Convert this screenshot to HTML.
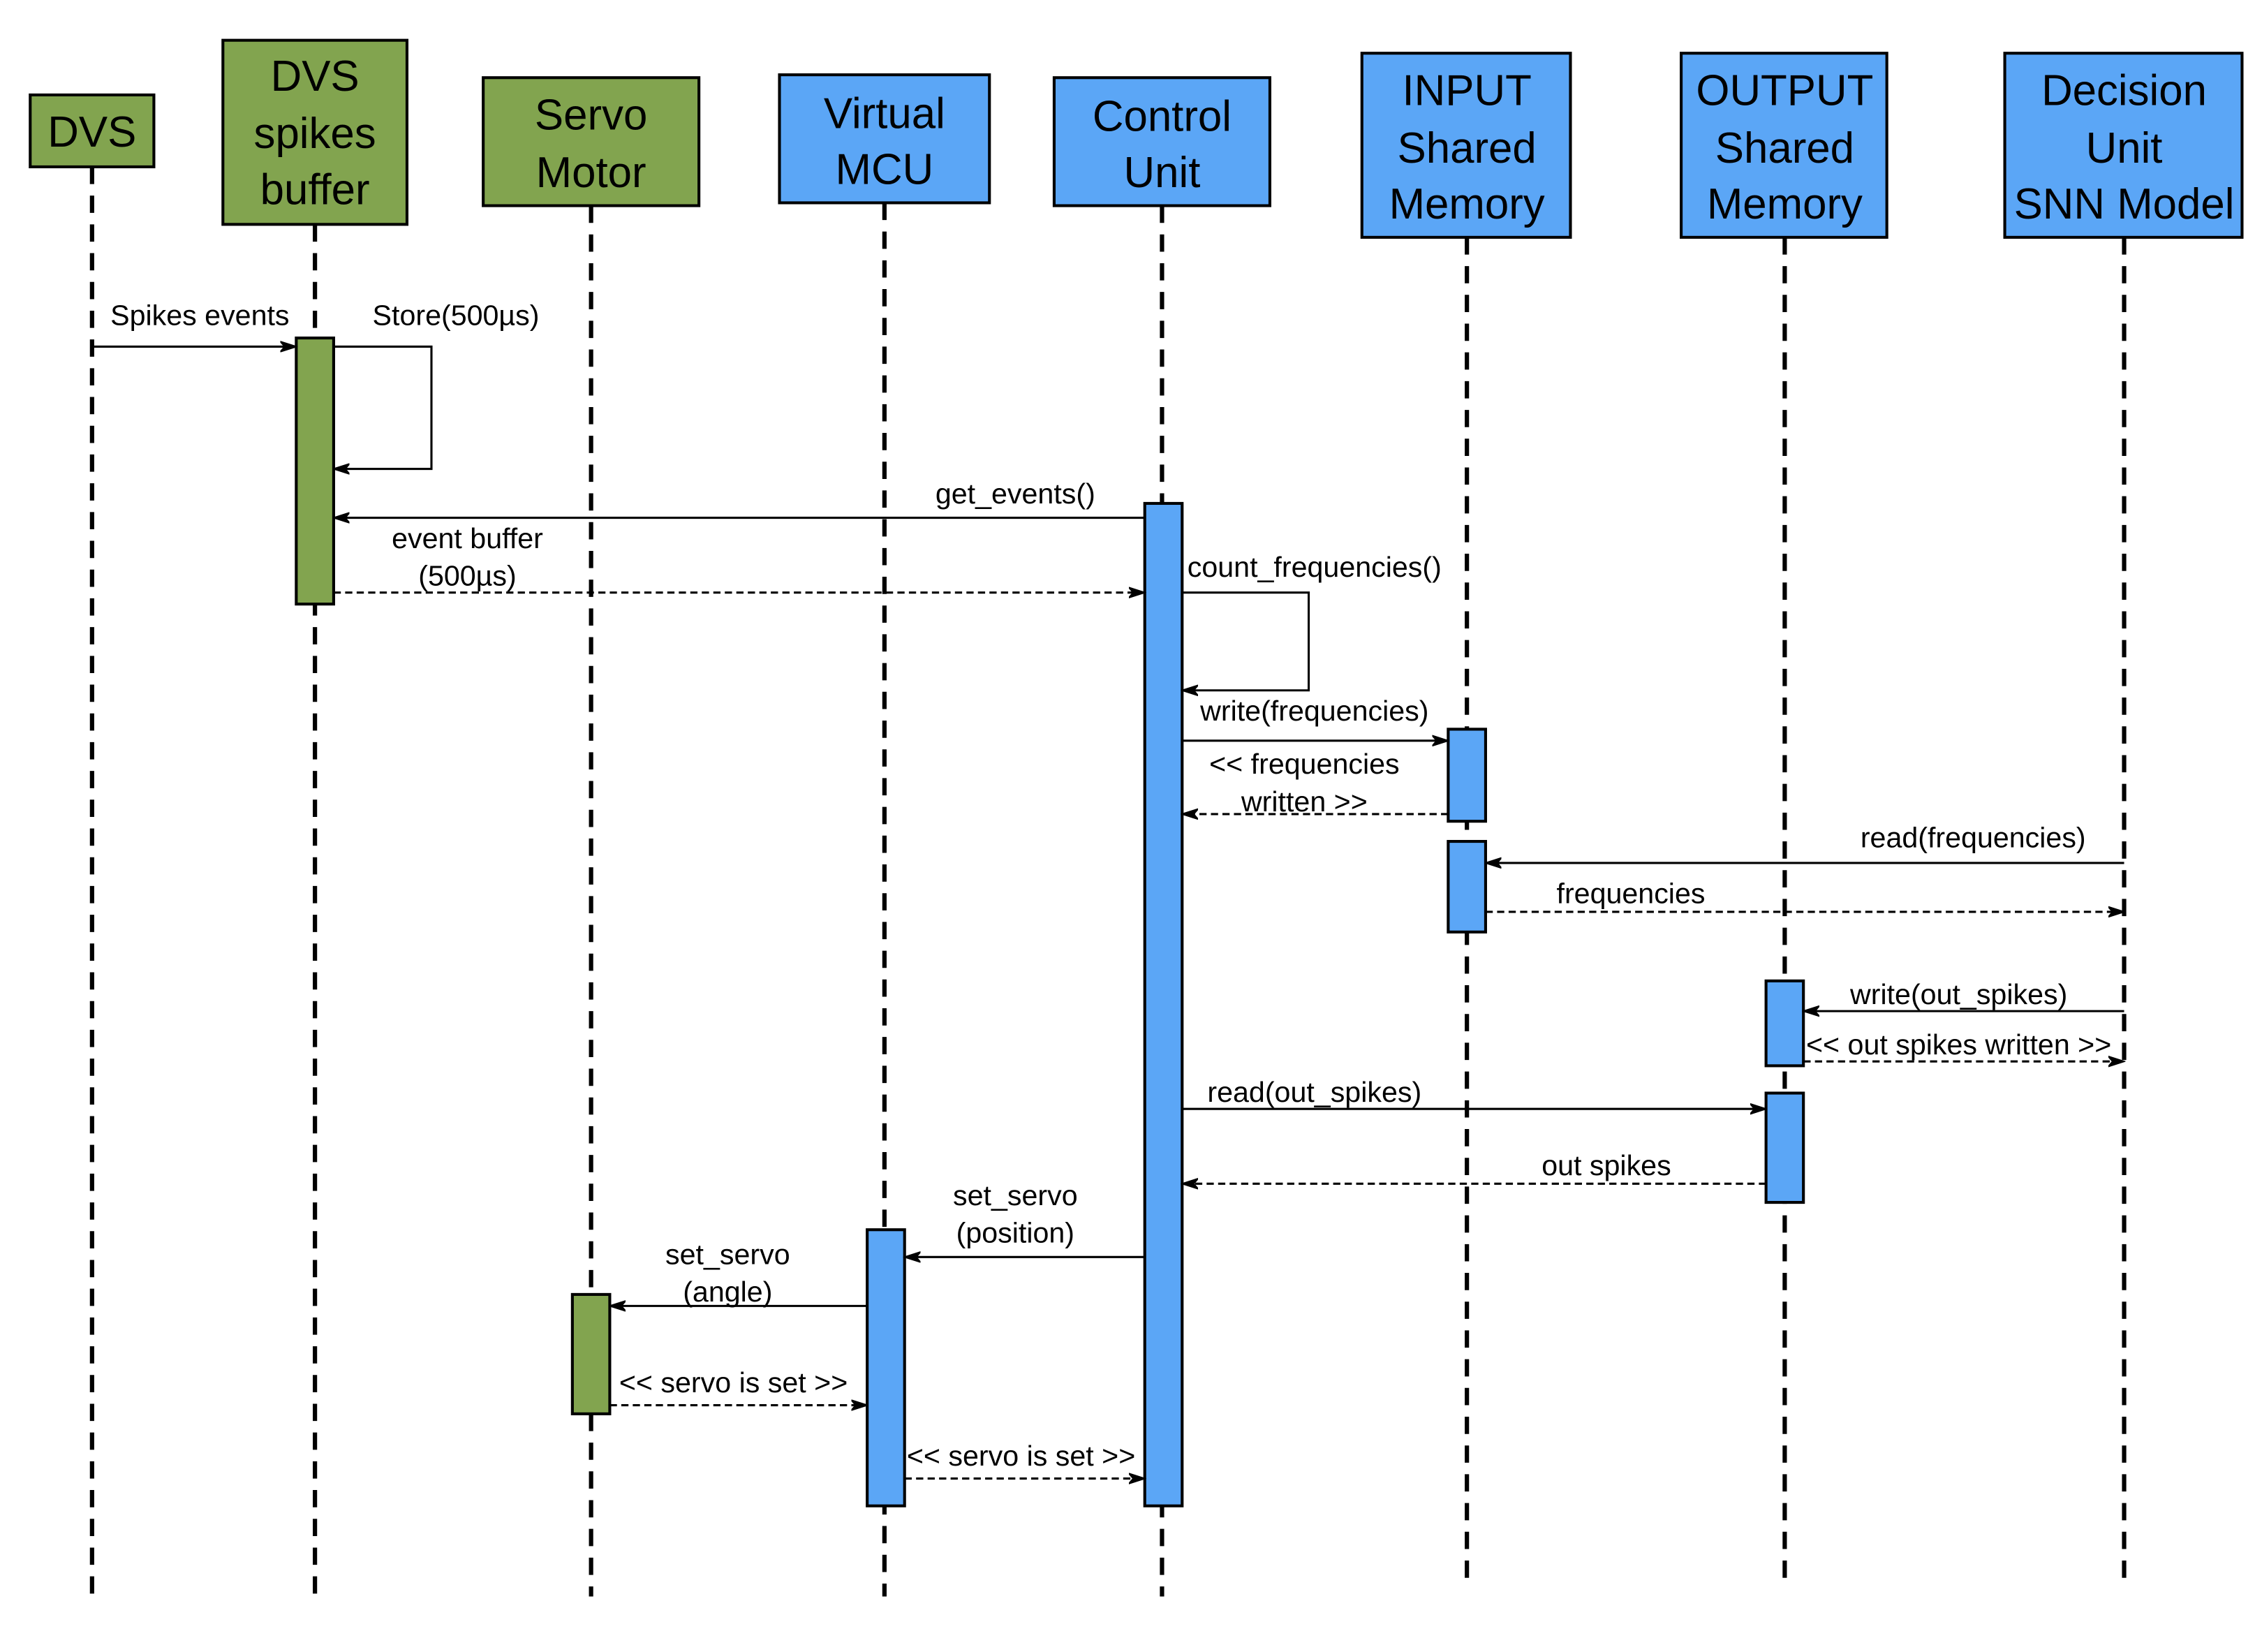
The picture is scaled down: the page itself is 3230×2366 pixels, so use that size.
<!DOCTYPE html>
<html><head><style>html,body{margin:0;padding:0;background:#fff}svg{display:block}</style></head>
<body>
<svg width="3230" height="2366" viewBox="0 0 1568 1148.6" preserveAspectRatio="none" xmlns="http://www.w3.org/2000/svg" font-family="Liberation Sans, sans-serif">
<defs>
<marker id="a" markerWidth="12" markerHeight="8" refX="11" refY="4" orient="auto" markerUnits="userSpaceOnUse">
<path d="M0,0.5 L11,4 L0,7.5 L3,4 Z" fill="#000" stroke="#000" stroke-width="1"/></marker>
</defs>
<g stroke="#000" stroke-width="3" stroke-dasharray="12 8" fill="none">
<line x1="64" y1="116" x2="64" y2="1110"/>
<line x1="219" y1="156" x2="219" y2="1110"/>
<line x1="411" y1="143" x2="411" y2="1110"/>
<line x1="615" y1="141" x2="615" y2="1110"/>
<line x1="808" y1="143" x2="808" y2="1110"/>
<line x1="1020" y1="165" x2="1020" y2="1100"/>
<line x1="1241" y1="165" x2="1241" y2="1100"/>
<line x1="1477" y1="165" x2="1477" y2="1100"/>
</g>
<g stroke="#000" stroke-width="2" font-size="30" text-anchor="middle">
<rect x="21" y="66" width="86" height="50" fill="#82a44f"/>
<rect x="155" y="28" width="128" height="128" fill="#82a44f"/>
<rect x="336" y="54" width="150" height="89" fill="#82a44f"/>
<rect x="542" y="52" width="146" height="89" fill="#5ba6f6"/>
<rect x="733" y="54" width="150" height="89" fill="#5ba6f6"/>
<rect x="947" y="37" width="145" height="128" fill="#5ba6f6"/>
<rect x="1169" y="37" width="143" height="128" fill="#5ba6f6"/>
<rect x="1394" y="37" width="165" height="128" fill="#5ba6f6"/>
</g>
<g font-size="30" text-anchor="middle" fill="#000">
<text x="64" y="102">DVS</text>
<text x="219" y="63">DVS</text><text x="219" y="103">spikes</text><text x="219" y="142">buffer</text>
<text x="411" y="90">Servo</text><text x="411" y="130">Motor</text>
<text x="615" y="89">Virtual</text><text x="615" y="128">MCU</text>
<text x="808" y="91">Control</text><text x="808" y="130">Unit</text>
<text x="1020" y="73">INPUT</text><text x="1020" y="113">Shared</text><text x="1020" y="152">Memory</text>
<text x="1241" y="73">OUTPUT</text><text x="1241" y="113">Shared</text><text x="1241" y="152">Memory</text>
<text x="1477" y="73">Decision</text><text x="1477" y="113">Unit</text><text x="1477" y="152">SNN Model</text>
</g>
<g stroke="#000" stroke-width="2">
<rect x="206" y="235" width="26" height="185" fill="#82a44f"/>
<rect x="796" y="350" width="26" height="697" fill="#5ba6f6"/>
<rect x="1007" y="507" width="26" height="64" fill="#5ba6f6"/>
<rect x="1007" y="585" width="26" height="63" fill="#5ba6f6"/>
<rect x="1228" y="682" width="26" height="59" fill="#5ba6f6"/>
<rect x="1228" y="760" width="26" height="76" fill="#5ba6f6"/>
<rect x="603" y="855" width="26" height="192" fill="#5ba6f6"/>
<rect x="398" y="900" width="26" height="83" fill="#82a44f"/>
</g>
<g stroke="#000" stroke-width="1.5" fill="none" marker-end="url(#a)">
<line x1="64" y1="241" x2="206" y2="241"/>
<polyline points="232,241 300,241 300,326 232,326"/>
<line x1="796" y1="360" x2="232" y2="360"/>
<line x1="232" y1="412" x2="796" y2="412" stroke-dasharray="5 3"/>
<polyline points="822,412 910,412 910,480 822,480"/>
<line x1="822" y1="515" x2="1007" y2="515"/>
<line x1="1007" y1="566" x2="822" y2="566" stroke-dasharray="5 3"/>
<line x1="1477" y1="600" x2="1033" y2="600"/>
<line x1="1033" y1="634" x2="1477" y2="634" stroke-dasharray="5 3"/>
<line x1="1477" y1="703" x2="1254" y2="703"/>
<line x1="1254" y1="738" x2="1477" y2="738" stroke-dasharray="5 3"/>
<line x1="822" y1="771" x2="1228" y2="771"/>
<line x1="1228" y1="823" x2="822" y2="823" stroke-dasharray="5 3"/>
<line x1="796" y1="874" x2="629" y2="874"/>
<line x1="603" y1="908" x2="424" y2="908"/>
<line x1="424" y1="977" x2="603" y2="977" stroke-dasharray="5 3"/>
<line x1="629" y1="1028" x2="796" y2="1028" stroke-dasharray="5 3"/>
</g>
<g font-size="20" text-anchor="middle" fill="#000">
<text x="139" y="226">Spikes events</text>
<text x="317" y="226">Store(500µs)</text>
<text x="706" y="350">get_events()</text>
<text x="325" y="381">event buffer</text><text x="325" y="407">(500µs)</text>
<text x="914" y="401">count_frequencies()</text>
<text x="914" y="501">write(frequencies)</text>
<text x="907" y="538">&lt;&lt; frequencies</text><text x="907" y="564">written &gt;&gt;</text>
<text x="1372" y="589">read(frequencies)</text>
<text x="1134" y="628">frequencies</text>
<text x="1362" y="698">write(out_spikes)</text>
<text x="1362" y="733">&lt;&lt; out spikes written &gt;&gt;</text>
<text x="914" y="766">read(out_spikes)</text>
<text x="1117" y="817">out spikes</text>
<text x="706" y="838">set_servo</text><text x="706" y="864">(position)</text>
<text x="506" y="879">set_servo</text><text x="506" y="905">(angle)</text>
<text x="510" y="968">&lt;&lt; servo is set &gt;&gt;</text>
<text x="710" y="1019">&lt;&lt; servo is set &gt;&gt;</text>
</g>
</svg>
</body></html>
